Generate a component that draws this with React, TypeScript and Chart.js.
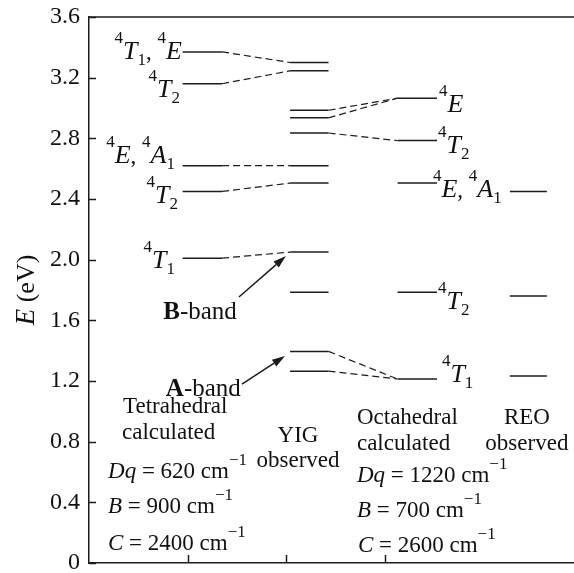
import React, { useEffect, useRef } from 'react';
import { Chart, registerables } from 'chart.js';

Chart.register(...registerables);

// ---------------- data ----------------
const columnNames = ['Tetrahedral calculated', 'YIG observed', 'Octahedral calculated', 'REO observed'];
const tetraLevels = [3.37, 3.16, 2.62, 2.45, 2.01];
const yigLevels = [3.3, 3.245, 2.985, 2.935, 2.835, 2.62, 2.505, 2.05, 1.785, 1.395, 1.265];
const octLevels = [3.065, 2.785, 2.505, 1.785, 1.213];
const reoLevels = [2.45, 1.76, 1.233];
const columnStart = [0.95, 2.04, 3.13, 4.27];
const columnEnd = [1.35, 2.43, 3.53, 4.645];
// dashed correlation lines: [index in left column, index in right column]
const tetraToYig = [[0, 0], [1, 1], [2, 5], [3, 6], [4, 7]];
const yigToOct = [[2, 0], [3, 0], [4, 1], [9, 4], [10, 4]];
const xTicks = [1, 2, 3];
const yMin = 0;
const yMax = 3.6;
const yStep = 0.2;
const xMax = 4.92;
// arrows: [tailX, tailY, tipX, tipY]
const arrowB = [1.521, 1.754, 1.998, 2.024];
const arrowA = [1.552, 1.18, 1.988, 1.365];

// ---------------- text helpers ----------------
type Seg = { t: string; f?: 'i' | 'b' | 'n'; s?: 'sup' | 'sub'; dy?: number; size?: number };
const sup = (t: string, dy?: number): Seg => ({ t, s: 'sup', dy });
const sub = (t: string): Seg => ({ t, s: 'sub' });
const it = (t: string, size?: number): Seg => ({ t, f: 'i', size });
const bd = (t: string, size?: number): Seg => ({ t, f: 'b', size });
const n = (t: string, size?: number): Seg => ({ t, f: 'n', size });

const FONT = '"Liberation Serif", "Times New Roman", serif';
const MAIN = 23;
const ITAL = 26;
const SMALL = 17;
const BAND = 25;

type Note = { segs: Seg[]; x: number; y: number; align: 'left' | 'right' | 'center' };

const levelNotes: Note[] = [
  { segs: [sup('4'), it('T'), sub('1'), n(', '), sup('4'), it('E')], x: 0.943, y: 3.323, align: 'right' },
  { segs: [sup('4'), it('T'), sub('2')], x: 0.923, y: 3.072, align: 'right' },
  { segs: [sup('4'), it('E'), n(', '), sup('4'), it('A'), sub('1')], x: 0.872, y: 2.637, align: 'right' },
  { segs: [sup('4'), it('T'), sub('2')], x: 0.903, y: 2.374, align: 'right' },
  { segs: [sup('4'), it('T'), sub('1')], x: 0.872, y: 1.945, align: 'right' },
  { segs: [sup('4'), it('E')], x: 3.55, y: 2.974, align: 'left' },
  { segs: [sup('4'), it('T'), sub('2')], x: 3.54, y: 2.703, align: 'left' },
  { segs: [sup('4'), it('E'), n(', '), sup('4'), it('A'), sub('1')], x: 3.489, y: 2.413, align: 'left' },
  { segs: [sup('4'), it('T'), sub('2')], x: 3.54, y: 1.675, align: 'left' },
  { segs: [sup('4'), it('T'), sub('1')], x: 3.58, y: 1.193, align: 'left' },
  { segs: [bd('B', BAND), n('-band', BAND)], x: 1.5, y: 1.609, align: 'right' },
  { segs: [bd('A', BAND), n('-band', BAND)], x: 1.54, y: 1.101, align: 'right' },
];

const blockNotes: Note[] = [
  { segs: [n('Tetrahedral')], x: 0.345, y: 0.989, align: 'left' },
  { segs: [n('calculated')], x: 0.335, y: 0.818, align: 'left' },
  { segs: [it('Dq', MAIN), n(' = 620 cm'), sup('\u22121', -13)], x: 0.193, y: 0.56, align: 'left' },
  { segs: [it('B', MAIN), n(' = 900 cm'), sup('\u22121', -13)], x: 0.193, y: 0.33, align: 'left' },
  { segs: [it('C', MAIN), n(' = 2400 cm'), sup('\u22121', -13)], x: 0.193, y: 0.086, align: 'left' },
  { segs: [n('YIG')], x: 2.12, y: 0.798, align: 'center' },
  { segs: [n('observed')], x: 2.12, y: 0.633, align: 'center' },
  { segs: [n('Octahedral')], x: 2.718, y: 0.916, align: 'left' },
  { segs: [n('calculated')], x: 2.718, y: 0.745, align: 'left' },
  { segs: [it('Dq', MAIN), n(' = 1220 cm'), sup('\u22121', -13)], x: 2.718, y: 0.534, align: 'left' },
  { segs: [it('B', MAIN), n(' = 700 cm'), sup('\u22121', -13)], x: 2.718, y: 0.303, align: 'left' },
  { segs: [it('C', MAIN), n(' = 2600 cm'), sup('\u22121', -13)], x: 2.728, y: 0.073, align: 'left' },
  { segs: [n('REO')], x: 4.442, y: 0.916, align: 'center' },
  { segs: [n('observed')], x: 4.442, y: 0.745, align: 'center' },
];

function segFont(sg: Seg) {
  const size = sg.size ? sg.size : sg.s ? SMALL : sg.f === 'i' ? ITAL : MAIN;
  const style = sg.f === 'i' ? 'italic ' : '';
  const weight = sg.f === 'b' ? 'bold ' : '';
  return `${style}${weight}${size}px ${FONT}`;
}

function drawRich(ctx: CanvasRenderingContext2D, segs: Seg[], x: number, y: number, align: string) {
  const widths = segs.map((sg) => {
    ctx.font = segFont(sg);
    return ctx.measureText(sg.t).width;
  });
  const total = widths.reduce((a, b) => a + b, 0);
  let cx = align === 'right' ? x - total : align === 'center' ? x - total / 2 : x;
  ctx.textAlign = 'left';
  ctx.textBaseline = 'alphabetic';
  segs.forEach((sg, i) => {
    ctx.font = segFont(sg);
    const dy = sg.dy !== undefined ? sg.dy : sg.s === 'sup' ? -16 : sg.s === 'sub' ? 6 : 0;
    ctx.fillText(sg.t, cx, y + dy);
    cx += widths[i];
  });
}

const INK = '#1c1c1c';

function buildDatasets() {
  const cols = [tetraLevels, yigLevels, octLevels, reoLevels];
  const ds: any[] = [];
  cols.forEach((levels, c) => {
    levels.forEach((e) => {
      ds.push({
        label: columnNames[c],
        data: [
          { x: columnStart[c], y: e },
          { x: columnEnd[c], y: e },
        ],
        borderColor: INK,
        borderWidth: 1.5,
        pointRadius: 0,
        fill: false,
      });
    });
  });
  const links: [number[][], number[], number[], number][] = [
    [tetraToYig, tetraLevels, yigLevels, 0],
    [yigToOct, yigLevels, octLevels, 1],
  ];
  links.forEach(([pairs, left, right, c]) => {
    pairs.forEach(([a, b]) => {
      ds.push({
        label: 'link',
        data: [
          { x: columnEnd[c], y: left[a] },
          { x: columnStart[c + 1], y: right[b] },
        ],
        borderColor: INK,
        borderWidth: 1.2,
        borderDash: [7, 4],
        pointRadius: 0,
        fill: false,
      });
    });
  });
  return ds;
}

const annotationPlugin = {
  id: 'annotations',
  afterDraw(chart: any) {
    const { ctx, chartArea, scales } = chart;
    const xs = scales.x;
    const ys = scales.y;
    ctx.save();
    ctx.strokeStyle = INK;
    ctx.lineWidth = 1.5;
    // top frame line
    ctx.beginPath();
    ctx.moveTo(chartArea.left, chartArea.top);
    ctx.lineTo(chartArea.right, chartArea.top);
    ctx.stroke();
    // inward tick marks, from the scales' own ticks
    ctx.beginPath();
    ys.ticks.forEach((t: any) => {
      const py = Math.round(ys.getPixelForValue(t.value)) + 0.5;
      ctx.moveTo(chartArea.left, py);
      ctx.lineTo(chartArea.left + 7, py);
    });
    xs.ticks.forEach((t: any) => {
      const px = Math.round(xs.getPixelForValue(t.value)) + 0.5;
      ctx.moveTo(px, chartArea.bottom);
      ctx.lineTo(px, chartArea.bottom - 8);
    });
    ctx.stroke();

    ctx.fillStyle = '#111';
    [...levelNotes, ...blockNotes].forEach((nt) => {
      drawRich(ctx, nt.segs, xs.getPixelForValue(nt.x), ys.getPixelForValue(nt.y), nt.align);
    });

    // arrows
    [arrowB, arrowA].forEach(([x0, y0, x1, y1]) => {
      const px0 = xs.getPixelForValue(x0);
      const py0 = ys.getPixelForValue(y0);
      const px1 = xs.getPixelForValue(x1);
      const py1 = ys.getPixelForValue(y1);
      const ang = Math.atan2(py1 - py0, px1 - px0);
      const len = 13;
      const half = 4;
      const bx = px1 - len * Math.cos(ang);
      const by = py1 - len * Math.sin(ang);
      ctx.strokeStyle = INK;
      ctx.lineWidth = 1.5;
      ctx.beginPath();
      ctx.moveTo(px0, py0);
      ctx.lineTo(bx, by);
      ctx.stroke();
      ctx.fillStyle = INK;
      ctx.beginPath();
      ctx.moveTo(px1, py1);
      ctx.lineTo(bx - half * Math.sin(ang), by + half * Math.cos(ang));
      ctx.lineTo(bx + half * Math.sin(ang), by - half * Math.cos(ang));
      ctx.closePath();
      ctx.fill();
    });

    // y axis title
    ctx.fillStyle = '#111';
    ctx.translate(chartArea.left - 55, (chartArea.top + chartArea.bottom) / 2);
    ctx.rotate(-Math.PI / 2);
    drawRich(ctx, [it('E', 27), n(' (eV)', 26)], 0, 0, 'center');
    ctx.restore();
  },
};

export default function App() {
  const ref = useRef<HTMLCanvasElement | null>(null);
  useEffect(() => {
    if (!ref.current) return;
    const chart = new Chart(ref.current, {
      type: 'line',
      data: { datasets: buildDatasets() },
      options: {
        animation: false,
        responsive: false,
        events: [],
        layout: { padding: { top: 17, bottom: 10, left: 0, right: 0 } },
        plugins: { legend: { display: false }, tooltip: { enabled: false }, title: { display: false } },
        scales: {
          x: {
            type: 'linear',
            min: 0,
            max: xMax,
            afterBuildTicks: (scale: any) => {
              scale.ticks = xTicks.map((v) => ({ value: v }));
            },
            afterFit: (scale: any) => {
              scale.height = 0;
              scale.paddingLeft = 0;
              scale.paddingRight = 0;
            },
            ticks: { display: false },
            grid: { display: false, drawOnChartArea: false, drawTicks: false },
            border: { display: true, color: INK, width: 1.5 },
          },
          y: {
            type: 'linear',
            min: yMin,
            max: yMax,
            afterFit: (scale: any) => {
              scale.width = 89;
              scale.paddingTop = 0;
              scale.paddingBottom = 0;
            },
            ticks: {
              stepSize: yStep,
              padding: 9,
              color: '#111',
              font: { family: FONT, size: 24 },
              callback: (v: any) => {
                const k = Math.round(Number(v) / yStep);
                if (k % 2 !== 0) return '';
                return k === 0 ? '0' : Number(v).toFixed(1);
              },
            },
            grid: { display: false, drawOnChartArea: false, drawTicks: false },
            border: { display: true, color: INK, width: 1.5 },
          },
        },
      },
      plugins: [annotationPlugin],
    });
    return () => chart.destroy();
  }, []);
  return (
    <div style={{ position: 'fixed', left: 0, top: 0, width: 574, height: 573, background: '#fff', overflow: 'hidden' }}>
      <canvas ref={ref} width={574} height={573} style={{ display: 'block' }} />
    </div>
  );
}
